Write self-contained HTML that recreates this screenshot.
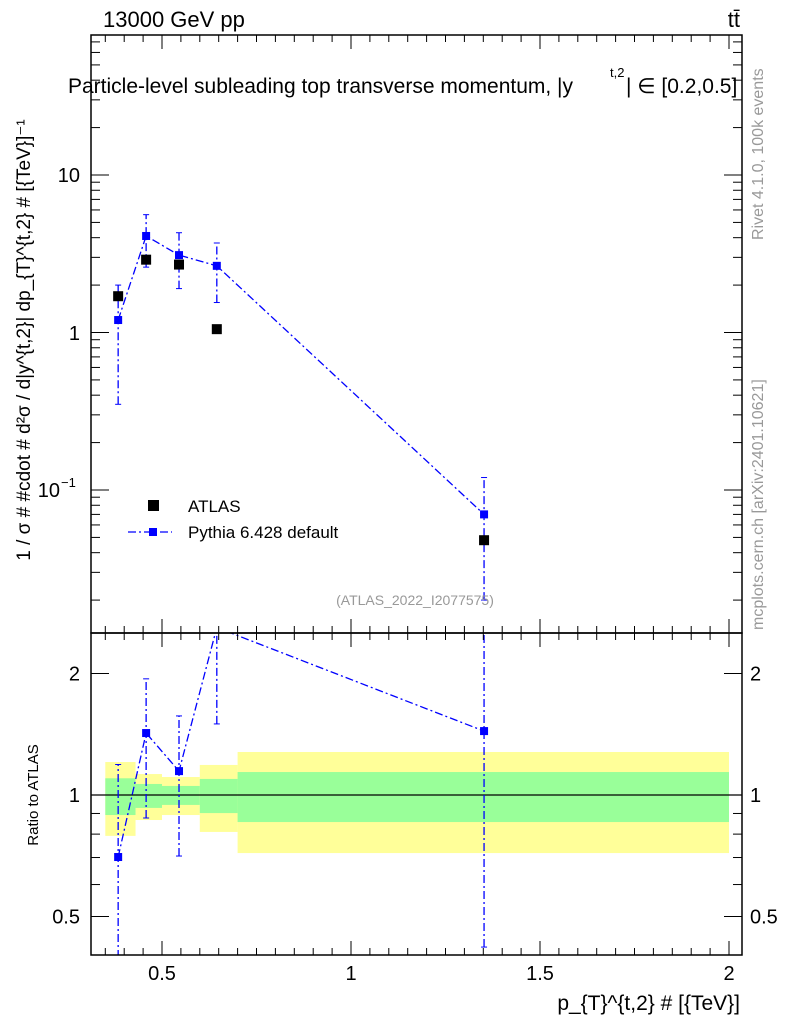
<!DOCTYPE html>
<html><head><meta charset="utf-8"><style>
body{margin:0;background:#fff;}
svg{display:block;font-family:"Liberation Sans",sans-serif;}
</style></head><body>
<svg id="c" width="786" height="1024" viewBox="0 0 786 1024"></svg>
<script>
const binEdges=[0.35,0.43,0.5,0.6,0.7,2.0];
const yellowLo=[0.792,0.867,0.892,0.81,0.718];
const yellowHi=[1.207,1.127,1.108,1.187,1.278];
const greenLo=[0.892,0.929,0.945,0.902,0.857];
const greenHi=[1.10,1.065,1.053,1.096,1.14];
const atlasX=[0.384,0.458,0.545,0.645,1.352];
const atlasY=[1.7,2.9,2.7,1.05,0.048];
const pyX=[0.384,0.458,0.545,0.645,1.352];
const pyY=[1.2,4.1,3.1,2.65,0.07];
const pyLo=[0.35,2.6,1.9,1.55,0.02];
const pyHi=[2.0,5.6,4.3,3.7,0.12];
const ratY=[0.702,1.424,1.146,2.6,1.44];
const ratLo=[0.3,0.877,0.706,1.5,0.42];
const ratHi=[1.19,1.94,1.57,3.5,3.0];
const xTicks=[0.5,1,1.5,2];
const xTickLabels=["0.5","1","1.5","2"];

const L=91,R=742,T=35,M=633,B=955;
const X=v=>351+(v-1)*378;
const Y=v=>175-(Math.log10(v)-1)*157.5;
const RY=v=>795-Math.log2(v)*121.5;
const svg=document.getElementById('c');
const NS='http://www.w3.org/2000/svg';
function add(tag,attrs,name,parent){const e=document.createElementNS(NS,tag);for(const k in attrs)e.setAttribute(k,attrs[k]);


(parent||svg).appendChild(e);return e;}
function txt(x,y,s,name,extra){const e=add('text',Object.assign({x:x,y:y},extra||{}),name);e.textContent=s;return e;}
const defs=add('defs',{},'defs');
const c1=add('clipPath',{id:'cm'},'clip-main',defs);add('rect',{x:L,y:T,width:R-L,height:M-T},'clip-rect',c1);
const c2=add('clipPath',{id:'cr'},'clip-ratio',defs);add('rect',{x:L,y:M,width:R-L,height:B-M},'clip-rect',c2);
const gR=add('g',{'clip-path':'url(#cr)'},'ratio-plot');
for(let i=0;i<binEdges.length-1;i++){
 add('rect',{x:X(binEdges[i]),y:RY(yellowHi[i]),width:X(binEdges[i+1])-X(binEdges[i]),height:RY(yellowLo[i])-RY(yellowHi[i]),fill:'#ffff99'},'uncertainty-band-yellow',gR);
}
for(let i=0;i<binEdges.length-1;i++){
 add('rect',{x:X(binEdges[i]),y:RY(greenHi[i]),width:X(binEdges[i+1])-X(binEdges[i]),height:RY(greenLo[i])-RY(greenHi[i]),fill:'#99ff99'},'uncertainty-band-green',gR);
}
add('line',{x1:L,x2:R,y1:RY(1),y2:RY(1),stroke:'#000','stroke-width':1.2},'ratio-unity-line',gR);
add('polyline',{points:pyX.map((x,i)=>X(x)+','+RY(ratY[i])).join(' '),fill:'none',stroke:'#0000ff','stroke-width':1.3,'stroke-dasharray':'8,3,2,3'},'ratio-pythia-line',gR);
pyX.forEach((x,i)=>{
 add('line',{x1:X(x),x2:X(x),y1:RY(ratLo[i]),y2:RY(ratHi[i]),stroke:'#0000ff','stroke-width':1.3,'stroke-dasharray':'8,3,2,3'},'ratio-error-bar',gR);
 add('line',{x1:X(x)-3,x2:X(x)+3,y1:RY(ratLo[i]),y2:RY(ratLo[i]),stroke:'#0000ff'},'ratio-error-cap',gR);
 add('line',{x1:X(x)-3,x2:X(x)+3,y1:RY(ratHi[i]),y2:RY(ratHi[i]),stroke:'#0000ff'},'ratio-error-cap',gR);
 add('rect',{x:X(x)-4,y:RY(ratY[i])-4,width:8,height:8,fill:'#0000ff'},'ratio-pythia-point',gR);
});
const gM=add('g',{'clip-path':'url(#cm)'},'main-plot');
add('polyline',{points:pyX.map((x,i)=>X(x)+','+Y(pyY[i])).join(' '),fill:'none',stroke:'#0000ff','stroke-width':1.3,'stroke-dasharray':'8,3,2,3'},'pythia-line',gM);
pyX.forEach((x,i)=>{
 add('line',{x1:X(x),x2:X(x),y1:Y(pyLo[i]),y2:Y(pyHi[i]),stroke:'#0000ff','stroke-width':1.3,'stroke-dasharray':'8,3,2,3'},'pythia-error-bar',gM);
 add('line',{x1:X(x)-3,x2:X(x)+3,y1:Y(pyLo[i]),y2:Y(pyLo[i]),stroke:'#0000ff'},'pythia-error-cap',gM);
 add('line',{x1:X(x)-3,x2:X(x)+3,y1:Y(pyHi[i]),y2:Y(pyHi[i]),stroke:'#0000ff'},'pythia-error-cap',gM);
});
atlasX.forEach((x,i)=>add('rect',{x:X(x)-5,y:Y(atlasY[i])-5,width:10,height:10,fill:'#000'},'atlas-point',gM));
pyX.forEach((x,i)=>add('rect',{x:X(x)-4,y:Y(pyY[i])-4,width:8,height:8,fill:'#0000ff'},'pythia-point',gM));
add('rect',{x:L,y:T,width:R-L,height:M-T,fill:'none',stroke:'#000','stroke-width':1.5},'main-frame');
add('rect',{x:L,y:M,width:R-L,height:B-M,fill:'none',stroke:'#000','stroke-width':1.5},'ratio-frame');
for(let v=0.35;v<=2.05;v+=0.05){const vv=Math.round(v*100)/100;const major=Math.abs(vv*2-Math.round(vv*2))<1e-6;const l=major?14:7;
 [[T,1],[M,-1],[M,1],[B,-1]].forEach(([y,d])=>add('line',{x1:X(vv),x2:X(vv),y1:y,y2:y+d*l,stroke:'#000'},'x-tick'));}
xTicks.forEach((v,i)=>txt(X(v),980,xTickLabels[i],'x-tick-label',{'font-size':20,'text-anchor':'middle'}));
for(let e=-2;e<=1;e++)for(let m=1;m<=9;m++){const v=m*Math.pow(10,e);const y=Y(v);if(y<T||y>M)continue;const l=m==1?18:9;
 add('line',{x1:L,x2:L+l,y1:y,y2:y,stroke:'#000'},'y-tick');add('line',{x1:R,x2:R-l,y1:y,y2:y,stroke:'#000'},'y-tick');}
txt(80,182,'10','y-tick-label',{'font-size':20,'text-anchor':'end'});
txt(80,340,'1','y-tick-label',{'font-size':20,'text-anchor':'end'});
txt(60,497,'10','y-tick-label',{'font-size':20,'text-anchor':'end'});
txt(61,487,'−1','y-tick-label-exp',{'font-size':13,'text-anchor':'start'});
[0.5,0.6,0.7,0.8,0.9,1,2].forEach(v=>{const y=RY(v);const l=(v==0.5||v==1||v==2)?18:9;
 add('line',{x1:L,x2:L+l,y1:y,y2:y,stroke:'#000'},'ratio-tick');add('line',{x1:R,x2:R-l,y1:y,y2:y,stroke:'#000'},'ratio-tick');});
[[2,'2'],[1,'1'],[0.5,'0.5']].forEach(([v,s])=>{txt(80,RY(v)+7,s,'ratio-tick-label',{'font-size':20,'text-anchor':'end'});txt(750,RY(v)+7,s,'ratio-tick-label-right',{'font-size':20});});
txt(103,27,'13000 GeV pp','header-left',{'font-size':22});
txt(740,27,'tt̄','header-right',{'font-size':22,'text-anchor':'end'});
txt(68,93,'Particle-level subleading top transverse momentum, |y','plot-title',{'font-size':21});
txt(610,77,'t,2','plot-title-sup',{'font-size':13});
txt(626,93,'| ∈ [0.2,0.5]','plot-title-end',{'font-size':21});
add('rect',{x:148,y:500,width:11,height:11,fill:'#000'},'legend-atlas-marker');
txt(188,512,'ATLAS','legend-atlas-label',{'font-size':17});
add('line',{x1:128,x2:172,y1:532,y2:532,stroke:'#0000ff','stroke-width':1.3,'stroke-dasharray':'8,3,2,3'},'legend-pythia-line');
add('rect',{x:149,y:528,width:8,height:8,fill:'#0000ff'},'legend-pythia-marker');
txt(188,538,'Pythia 6.428 default','legend-pythia-label',{'font-size':17});
txt(415,605,'(ATLAS_2022_I2077575)','analysis-id',{'font-size':14,fill:'#999','text-anchor':'middle'});
txt(0,0,'1 / σ # #cdot # d²σ / d|y^{t,2}| dp_{T}^{t,2} # [{TeV}]⁻¹','y-axis-title',{'font-size':19,transform:'translate(30,340) rotate(-90)','text-anchor':'middle'});
txt(0,0,'Ratio to ATLAS','ratio-y-axis-title',{'font-size':15,transform:'translate(38,795) rotate(-90)','text-anchor':'middle'});
txt(740,1010,'p_{T}^{t,2} # [{TeV}]','x-axis-title',{'font-size':21,'text-anchor':'end'});
txt(0,0,'Rivet 4.1.0,  100k events','rivet-label',{'font-size':16,fill:'#999',transform:'translate(763,240) rotate(-90)'});
txt(0,0,'mcplots.cern.ch [arXiv:2401.10621]','mcplots-label',{'font-size':16,fill:'#999',transform:'translate(763,630) rotate(-90)'});
</script>
</body></html>
